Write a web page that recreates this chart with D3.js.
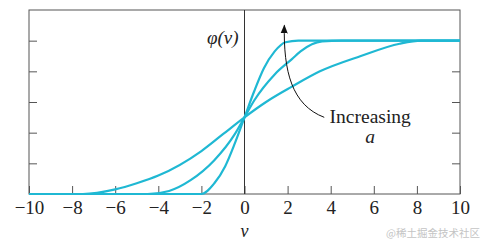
<!DOCTYPE html>
<html>
<head>
<meta charset="utf-8">
<script src="https://cdn.jsdelivr.net/npm/d3@7"></script>
<style>
  body { margin: 0; background: #fff; }
  svg { display: block; }
  .tick text { font-family: "Liberation Serif", serif; font-size: 19px; fill: #222; }
</style>
</head>
<body>
<svg id="chart" width="489" height="244"></svg>
<script>
// curves, v on x, phi(v) on y
const vSteep = [-10, -2, -1.4, -0.9, -0.45, 0, 0.45, 0.9, 1.4, 1.9, 2.5, 10]
const phiSteep = [0, 0, 0.07, 0.18, 0.33, 0.5, 0.67, 0.82, 0.93, 0.99, 1, 1]

const vMid = [-10, -4.5, -3.5, -2.5, -1.4, -0.45, 0, 0.45, 1.4, 2.2, 2.6, 3.6, 4.5, 10]
const phiMid = [0, 0, 0.02, 0.09, 0.22, 0.39, 0.5, 0.61, 0.78, 0.88, 0.93, 0.995, 1, 1]

const vSlow = [-10, -7.5, -6, -5, -4, -2, -1, 0, 1, 2.2, 3.5, 5.4, 7.2, 8.2, 10]
const phiSlow = [0, 0, 0.03, 0.07, 0.12, 0.28, 0.39, 0.5, 0.6, 0.7, 0.8, 0.9, 0.98, 1, 1]

const xTicks = [-10, -8, -6, -4, -2, 0, 2, 4, 6, 8, 10]
const yTicksLeft = [0.2, 0.4, 0.6, 0.8, 1.0]
const yTicksRight = [0.2, 0.4, 0.6, 0.8]

const width = 489, height = 244
const margin = { top: 10, right: 29, bottom: 50, left: 29 }
const curveColor = '#1fb8d3'

const svg = d3.select('#chart')

const x = d3.scaleLinear().domain([-10, 10]).range([margin.left, width - margin.right])
const y = d3.scaleLinear().domain([0, 1.2]).range([height - margin.bottom, margin.top])

// frame
svg.append('rect')
    .attr('x', x(-10)).attr('y', y(1.2))
    .attr('width', x(10) - x(-10)).attr('height', y(0) - y(1.2))
    .attr('fill', 'none').attr('stroke', '#555').attr('stroke-width', 1)

// axes with inward ticks
const xAxis = d3.axisBottom(x).tickValues(xTicks)
    .tickSizeInner(-8).tickSizeOuter(0).tickPadding(7)
svg.append('g')
    .attr('transform', `translate(0,${y(0)})`)
    .call(xAxis)
    .call(g => g.select('.domain').remove())
    .call(g => g.selectAll('.tick line').attr('stroke', '#555'))

svg.append('g')
    .attr('transform', `translate(${x(-10)},0)`)
    .call(d3.axisLeft(y).tickValues(yTicksLeft).tickSizeInner(-8).tickSizeOuter(0).tickFormat(''))
    .call(g => g.select('.domain').remove())
    .call(g => g.selectAll('.tick line').attr('stroke', '#555'))

svg.append('g')
    .attr('transform', `translate(${x(10)},0)`)
    .call(d3.axisRight(y).tickValues(yTicksRight).tickSizeInner(-8).tickSizeOuter(0).tickFormat(''))
    .call(g => g.select('.domain').remove())
    .call(g => g.selectAll('.tick line').attr('stroke', '#555'))

// vertical line at v = 0
svg.append('line')
    .attr('x1', x(0)).attr('x2', x(0))
    .attr('y1', y(1.2)).attr('y2', y(0))
    .attr('stroke', '#333').attr('stroke-width', 1)

const line = d3.line()
    .x(d => x(d[0]))
    .y(d => y(d[1]))
    .curve(d3.curveMonotoneX)

const series = [
    d3.zip(vSlow, phiSlow),
    d3.zip(vMid, phiMid),
    d3.zip(vSteep, phiSteep)
]

svg.selectAll('path.curve')
    .data(series)
    .enter()
    .append('path')
    .attr('class', 'curve')
    .attr('d', line)
    .attr('fill', 'none')
    .attr('stroke', curveColor)
    .attr('stroke-width', 2.2)

// arrow "Increasing a"
svg.append('defs').append('marker')
    .attr('id', 'head')
    .attr('viewBox', '0 0 10 10')
    .attr('refX', 9).attr('refY', 5)
    .attr('markerWidth', 9).attr('markerHeight', 9)
    .attr('markerUnits', 'userSpaceOnUse')
    .attr('orient', 'auto')
    .append('path')
    .attr('d', 'M0,1 L10,5 L0,9 Z')
    .attr('fill', '#111')

const arrowPath = d3.path()
arrowPath.moveTo(x(3.7), y(0.5))
arrowPath.bezierCurveTo(x(2.2), y(0.58), x(1.8), y(0.8), x(1.85), y(1.1))
svg.append('path')
    .attr('d', arrowPath.toString())
    .attr('fill', 'none')
    .attr('stroke', '#111')
    .attr('stroke-width', 1)
    .attr('marker-end', 'url(#head)')

const serif = '"Liberation Serif", serif'

svg.append('text')
    .attr('x', x(3.95)).attr('y', 123)
    .attr('font-family', serif).attr('font-size', 19.5)
    .attr('fill', '#222')
    .text('Increasing')

svg.append('text')
    .attr('x', 370).attr('y', 143)
    .attr('text-anchor', 'middle')
    .attr('font-family', serif).attr('font-size', 19.5).attr('font-style', 'italic')
    .attr('fill', '#222')
    .text('a')

svg.append('text')
    .attr('x', x(0) - 6).attr('y', 44)
    .attr('text-anchor', 'end')
    .attr('font-family', serif).attr('font-size', 19).attr('font-style', 'italic')
    .attr('fill', '#222')
    .text('φ(v)')

svg.append('text')
    .attr('x', x(0)).attr('y', 237)
    .attr('text-anchor', 'middle')
    .attr('font-family', serif).attr('font-size', 18).attr('font-style', 'italic')
    .attr('fill', '#222')
    .text('v')

svg.append('text')
    .attr('x', 480).attr('y', 237)
    .attr('text-anchor', 'end')
    .attr('font-family', '"Noto Sans CJK SC", sans-serif').attr('font-size', 10.5)
    .attr('fill', '#c4c4c4')
    .text('@稀土掘金技术社区')
</script>
</body>
</html>
